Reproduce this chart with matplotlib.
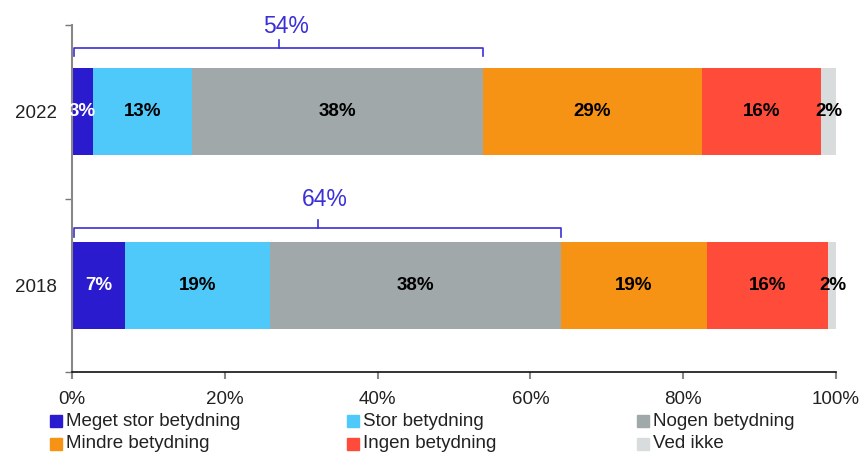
import matplotlib
matplotlib.use("Agg")
import matplotlib.pyplot as plt
from matplotlib.patches import Rectangle

plt.rcParams['font.family'] = ['Liberation Sans', 'DejaVu Sans']

years = ["2018", "2022"]
categories = ["Meget stor betydning", "Stor betydning", "Nogen betydning",
              "Mindre betydning", "Ingen betydning", "Ved ikke"]
colors = ["#2b1bcf", "#4fc9f9", "#a1a8aa", "#f79314", "#ff4b39", "#d9dcdc"]
# values per year (2018, 2022) for each category
values_2018 = [6.9, 19.0, 38.1, 19.1, 15.9, 1.3]
values_2022 = [2.7, 13.0, 38.1, 28.6, 15.6, 2.1]
labels_2018 = ["7%", "19%", "38%", "19%", "16%", "2%"]
labels_2022 = ["3%", "13%", "38%", "29%", "16%", "2%"]
bracket_labels = ["64%", "54%"]
xticks = [0, 20, 40, 60, 80, 100]
xticklabels = ["0%", "20%", "40%", "60%", "80%", "100%"]

values = [values_2018, values_2022]
labels = [labels_2018, labels_2022]
label_colors = ["white", "black", "black", "black", "black", "black"]

fig = plt.figure(figsize=(8.61, 4.55), dpi=100)
ax = fig.add_axes([72/861, 1-372/455, 764/861, 347/455])

bar_h = 0.5
for yi, (vals, labs) in enumerate(zip(values, labels)):
    left = 0
    for ci, (v, lab) in enumerate(zip(vals, labs)):
        ax.barh(yi, v, left=left, height=bar_h, color=colors[ci],
                edgecolor="none")
        ax.text(left + v/2, yi, lab, ha="center", va="center",
                fontsize=13.5, fontweight="bold", color=label_colors[ci])
        left += v

# brackets over first three categories
bcol = "#3b2fd6"
bracket_off = [0.33, 0.37]
for yi, vals in enumerate(values):
    end = sum(vals[:3])
    yh = yi + bracket_off[yi]
    ylo = yh - 0.05
    ytip = yh + 0.045
    start = 0.3
    mid = (start + end) / 2
    ax.plot([start, start, end, end], [ylo, yh, yh, ylo], color=bcol,
            lw=1.2, clip_on=False, solid_joinstyle="round")
    ax.plot([mid, mid], [yh, ytip], color=bcol, lw=1.2, clip_on=False)
    ax.text(mid + 1, yi + 0.455, bracket_labels[yi], ha="center",
            va="baseline", fontsize=16.5, color=bcol, clip_on=False)

ax.set_xlim(0, 100)
ax.set_ylim(-0.5, 1.5)
ax.set_xticks(xticks)
ax.set_xticklabels(xticklabels, fontsize=13.5, color="#222222")
ax.set_yticks([0, 1])
ax.set_yticklabels(years, fontsize=13.5, color="#222222")
ax.tick_params(axis="y", which="major", length=0, pad=11)
ax.set_yticks([-0.5, 0.5, 1.5], minor=True)
ax.tick_params(axis="y", which="minor", length=5, color="#777777", width=1)
ax.tick_params(axis="x", length=5, color="#888888", width=1.5, pad=9)

for s in ["top", "right"]:
    ax.spines[s].set_visible(False)
ax.spines["left"].set_color("#888888")
ax.spines["left"].set_linewidth(1.5)
ax.spines["left"].set_bounds(-0.53, 1.5)
ax.spines["bottom"].set_color("#111111")
ax.spines["bottom"].set_linewidth(1.2)
ax.set_zorder(1)

# legend drawn in a 2x3 grid
col_x = [50/861, 347/861, 637/861]
row_y = [1-421/455, 1-444/455]
sq_w, sq_h = 12/861, 12/455
for i, (cat, c) in enumerate(zip(categories, colors)):
    r, cidx = divmod(i, 3)
    x, y = col_x[cidx], row_y[r]
    fig.patches.append(Rectangle((x, y - sq_h/2), sq_w, sq_h, color=c,
                                 transform=fig.transFigure))
    fig.text(x + 16/861, y, cat, ha="left", va="center", fontsize=13.5,
             color="#222222")

fig.savefig("out.png", dpi=100)
